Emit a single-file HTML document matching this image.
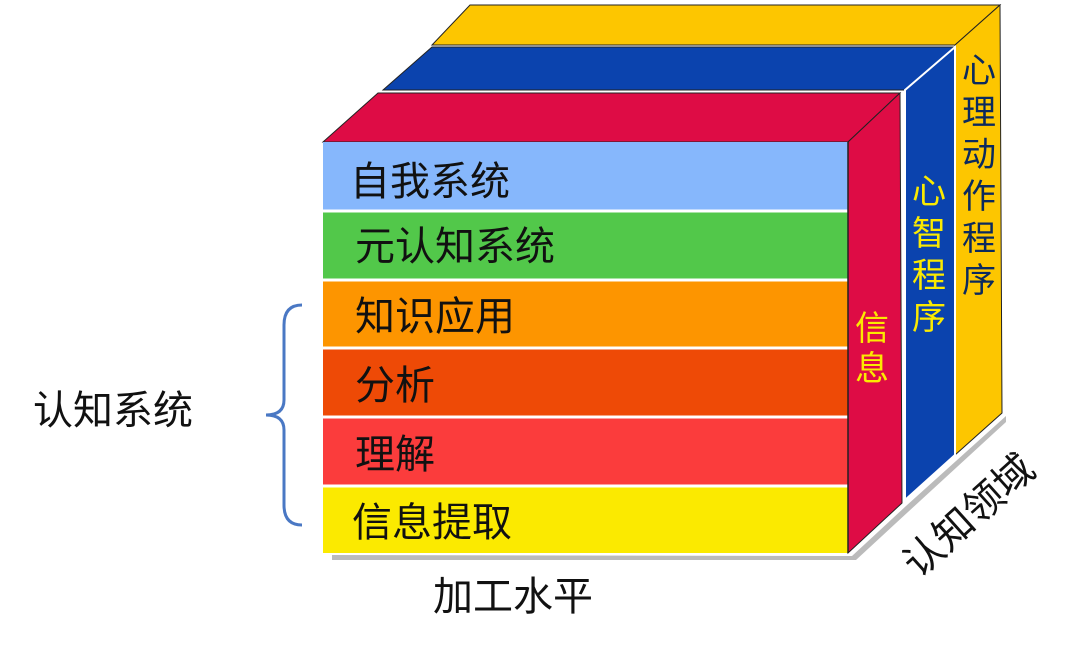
<!DOCTYPE html>
<html><head><meta charset="utf-8"><style>
html,body{margin:0;padding:0;background:#fff;width:1080px;height:648px;overflow:hidden}
text{font-family:"Liberation Sans","Noto Sans CJK SC",sans-serif}
</style></head><body>
<svg width="1080" height="648" viewBox="0 0 1080 648">
<polygon points="852,556 906,506 1006,416 1006,422 908,512 856,560 332,560 332,555" fill="#bbb"/>
<polygon points="470,5 1000,5 955,45 432,45" fill="#fdc600" stroke="#222" stroke-width="1"/>
<polygon points="955,45 1000,5 1002,413 955,455" fill="#fdc600" stroke="#222" stroke-width="1"/>
<polygon points="432,47 955,47 905,90 383,90" fill="#0b43ae" stroke="#222" stroke-width="1"/>
<polygon points="905,90 955,47 955,455 905,500" fill="#0b43ae" stroke="#fff" stroke-width="2"/>
<polygon points="323,142 378,93 900,93 848,142" fill="#de0c45" stroke="#222" stroke-width="1"/>
<polygon points="848,142 900,93 902,503 848,553" fill="#de0c45" stroke="#222" stroke-width="1"/>
<rect x="323" y="142" width="525" height="69" fill="#86b7fc"/>
<rect x="323" y="211" width="525" height="69" fill="#52c84a"/>
<rect x="323" y="280" width="525" height="68" fill="#fd9500"/>
<rect x="323" y="348" width="525" height="69" fill="#ee4a06"/>
<rect x="323" y="417" width="525" height="69" fill="#fb3c3c"/>
<rect x="323" y="486" width="525" height="67" fill="#fbea00"/>
<g stroke="#fff" stroke-width="3">
<line x1="323" y1="211" x2="848" y2="211"/><line x1="323" y1="280" x2="848" y2="280"/>
<line x1="323" y1="348" x2="848" y2="348"/><line x1="323" y1="417" x2="848" y2="417"/>
<line x1="323" y1="486" x2="848" y2="486"/></g>
<line x1="848" y1="142" x2="848" y2="553" stroke="#222" stroke-width="1.5"/>
<g font-size="40" fill="#111">
<text x="350" y="195">自我系统</text>
<text x="355" y="260">元认知系统</text>
<text x="355" y="330">知识应用</text>
<text x="355" y="399">分析</text>
<text x="355" y="468">理解</text>
<text x="352" y="536">信息提取</text>
</g>
<g font-size="34" fill="#fbea00" text-anchor="middle">
<text x="872" y="340">信</text><text x="872" y="380">息</text>
<text x="929" y="203">心</text><text x="929" y="245">智</text><text x="929" y="287">程</text><text x="929" y="329">序</text>
</g>
<g font-size="34" fill="#0b2a5e" text-anchor="middle">
<text x="979" y="82">心</text><text x="979" y="124">理</text><text x="979" y="166">动</text><text x="979" y="208">作</text><text x="979" y="250">程</text><text x="979" y="292">序</text>
</g>
<text x="0" y="0" font-size="40" fill="#111" text-anchor="middle" transform="translate(978,526) rotate(-42)">认知领域</text>
<text x="513" y="610" font-size="40" fill="#111" text-anchor="middle">加工水平</text>
<text x="113" y="424" font-size="40" fill="#111" text-anchor="middle">认知系统</text>
<path d="M302,305 Q284,305 284,325 L284,400 Q284,415 266,415 Q284,415 284,430 L284,505 Q284,525 302,525" fill="none" stroke="#4a78c4" stroke-width="3"/>
</svg>
</body></html>
